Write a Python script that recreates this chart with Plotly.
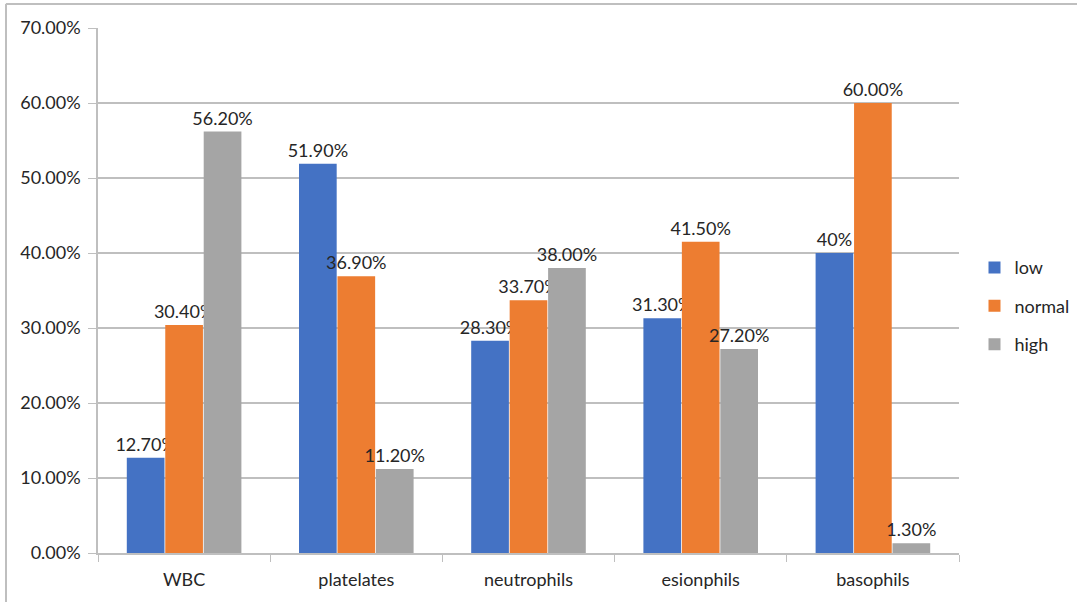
import plotly.graph_objects as go

categories = ["WBC", "platelates", "neutrophils", "esionphils", "basophils"]
low = [12.7, 51.9, 28.3, 31.3, 40.0]
normal = [30.4, 36.9, 33.7, 41.5, 60.0]
high = [56.2, 11.2, 38.0, 27.2, 1.3]
low_text = ["12.70%", "51.90%", "28.30%", "31.30%", "40%"]
normal_text = ["30.40%", "36.90%", "33.70%", "41.50%", "60.00%"]
high_text = ["56.20%", "11.20%", "38.00%", "27.20%", "1.30%"]
series = [("low", low, low_text, "#4472C4"),
          ("normal", normal, normal_text, "#ED7D31"),
          ("high", high, high_text, "#A5A5A5")]
yticks = [0, 10, 20, 30, 40, 50, 60, 70]
ytick_labels = ["0.00%", "10.00%", "20.00%", "30.00%", "40.00%", "50.00%", "60.00%", "70.00%"]

FONT = "Lato, 'Open Sans', sans-serif"

fig = go.Figure()
for name, vals, txt, col in series:
    fig.add_trace(go.Bar(
        x=categories, y=vals, name=name, text=txt,
        textposition="outside", constraintext="none", cliponaxis=False,
        textfont=dict(family=FONT, size=18, color="#262626"),
        marker=dict(color=col, line=dict(width=0)),
        legendgroup=name,
    ))

fig.update_layout(
    width=1077, height=602,
    margin=dict(l=98, r=118, t=28, b=49, autoexpand=False),
    paper_bgcolor="white", plot_bgcolor="white",
    barmode="group", bargap=0.33, bargroupgap=0.02,
    font=dict(family=FONT, size=18, color="#262626"),
    legend=dict(x=1.018, y=0.47, xanchor="left", yanchor="middle",
                itemwidth=30,
                font=dict(family=FONT, size=18, color="#262626"),
                tracegroupgap=12, bgcolor="rgba(0,0,0,0)"),
    shapes=[
        dict(type="line", xref="paper", yref="paper", x0=-0.107, x1=1.14,
             y0=1.0 + 24/525, y1=1.0 + 24/525, line=dict(color="#BFBFBF", width=2)),
        dict(type="line", xref="paper", yref="paper", x0=-92/861, x1=-92/861,
             y0=-49/525, y1=1.0 + 24/525, line=dict(color="#BFBFBF", width=2)),
    ],
)
fig.update_xaxes(
    showline=True, linecolor="#BFBFBF", linewidth=1.5,
    ticks="outside", tickson="boundaries", ticklen=7, tickcolor="#BFBFBF",
    tickfont=dict(family=FONT, size=18, color="#262626"),
    ticklabelstandoff=10,
    showgrid=False,
)
fig.update_yaxes(
    range=[0, 70], tickvals=yticks, ticktext=ytick_labels,
    showline=True, linecolor="#BFBFBF", linewidth=1.5,
    ticks="outside", ticklen=8, tickcolor="#BFBFBF",
    showgrid=True, gridcolor="#BFBFBF", gridwidth=1.5,
    tickfont=dict(family=FONT, size=18, color="#262626"),
    ticklabelstandoff=4,
    zeroline=False,
)

fig.write_html("out.html")
